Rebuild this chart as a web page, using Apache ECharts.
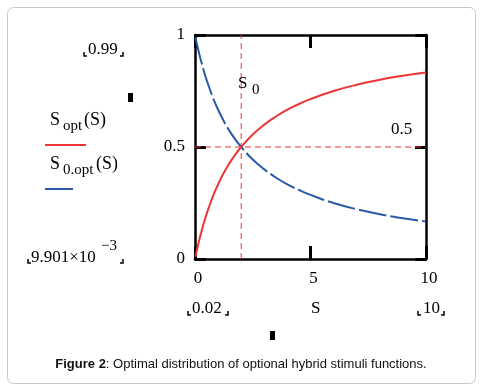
<!DOCTYPE html>
<html><head><meta charset="utf-8">
<script src="https://cdn.jsdelivr.net/npm/echarts@6/dist/echarts.min.js"></script>
<style>html,body{margin:0;padding:0;background:#fff}#c{width:494px;height:392px}</style>
</head><body><div id="c"></div>
<script>
var sValues = [0.02, 0.1, 0.2, 0.3, 0.4, 0.5, 0.6, 0.8, 1, 1.25, 1.5, 1.75, 2, 2.5, 3, 3.5, 4, 4.5, 5, 6, 7, 8, 9, 10];
var sOpt = [0.0099, 0.048, 0.091, 0.13, 0.167, 0.20, 0.23, 0.286, 0.333, 0.385, 0.429, 0.467, 0.50, 0.556, 0.60, 0.636, 0.667, 0.692, 0.714, 0.75, 0.778, 0.80, 0.818, 0.833];
var s0Opt = [0.99, 0.952, 0.909, 0.87, 0.833, 0.80, 0.77, 0.714, 0.667, 0.615, 0.571, 0.533, 0.50, 0.444, 0.40, 0.364, 0.333, 0.308, 0.286, 0.25, 0.222, 0.20, 0.182, 0.167];
var xTicks = [0, 5, 10];
var yTicks = [0, 0.5, 1];
var s0 = 2, half = 0.5;
var xRange = [0, 10], yRange = [0, 1];

var serif = '"Liberation Serif", "Times New Roman", serif';
var sans = '"Liberation Sans", Arial, sans-serif';
var chart = echarts.init(document.getElementById('c'), null, {renderer: 'canvas'});

function pair(a, b) { return a.map(function (v, i) { return [v, b[i]]; }); }
function txt(x, y, t, size, extra) {
  var st = {x: x, y: y, text: t, fill: '#000', font: size + 'px ' + serif, textVerticalAlign: 'middle'};
  if (extra) for (var k in extra) st[k] = extra[k];
  return {type: 'text', style: st, z: 10};
}
function brackets(x1, x2, y) {
  var s = {stroke: '#000', lineWidth: 1.5, fill: null};
  return [
    {type: 'polyline', shape: {points: [[x1, y - 4], [x1, y], [x1 + 3, y]]}, style: s},
    {type: 'polyline', shape: {points: [[x2, y - 4], [x2, y], [x2 - 3, y]]}, style: s}
  ];
}

var axisCommon = {
  type: 'value', splitLine: {show: false},
  axisLine: {show: true, onZero: false, lineStyle: {color: '#000', width: 2.5}},
  axisTick: {show: true, inside: true, length: 13, lineStyle: {color: '#000', width: 3}}
};

var redDash = {color: '#ee3535', width: 1, type: [6, 4]};

var graphics = [
  {type: 'rect', shape: {x: 7.5, y: 7.5, width: 468, height: 376, r: 6}, style: {fill: null, stroke: '#c8c8c8', lineWidth: 1}},
  txt(88, 50, '0.99', 17),
  txt(31, 258, '9.901\u00d710', 17),
  txt(101, 246, '\u22123', 15),
  txt(192, 309, '0.02', 17),
  txt(311, 309, 'S', 17),
  txt(423, 309, '10', 17),
  {type: 'rect', shape: {x: 128, y: 93, width: 5, height: 9}, style: {fill: '#000'}},
  {type: 'rect', shape: {x: 270, y: 331, width: 5, height: 9}, style: {fill: '#000'}},
  // legend
  txt(50, 120, 'S', 18),
  txt(63, 126, 'opt', 15),
  txt(84, 120, '(S)', 18),
  {type: 'line', shape: {x1: 45, y1: 145, x2: 86, y2: 145}, style: {stroke: '#ee3535', lineWidth: 2}},
  txt(50, 164, 'S', 18),
  txt(63, 170, '0.opt', 15),
  txt(96, 164, '(S)', 18),
  {type: 'line', shape: {x1: 45, y1: 189, x2: 73, y2: 189}, style: {stroke: '#2a5aa8', lineWidth: 2}},
  // in-plot labels
  txt(238, 84, 'S', 17),
  txt(252, 90, '0', 15),
  txt(391, 130, '0.5', 17),
  {type: 'text', style: {x: 241, y: 364, textAlign: 'center', textVerticalAlign: 'middle',
    rich: {b: {fontFamily: sans, fontSize: 13, fontWeight: 'bold', fill: '#111'},
           n: {fontFamily: sans, fontSize: 13, fill: '#111'}},
    text: '{b|Figure 2}{n|: Optimal distribution of optional hybrid stimuli functions.}'}}
].concat(brackets(84, 123, 56), brackets(28, 123, 263), brackets(188, 228, 315), brackets(418, 444, 315));

chart.setOption({
  animation: false,
  backgroundColor: '#fff',
  grid: {left: 195, right: 68, top: 35, bottom: 133},
  xAxis: [
    Object.assign({}, axisCommon, {position: 'bottom', min: 0, max: 10, interval: 5,
      axisLabel: {show: true, color: '#000', fontFamily: serif, fontSize: 17, margin: 11, padding: [0, 0, 0, 6],
        customValues: xTicks}}),
    Object.assign({}, axisCommon, {position: 'top', min: 0, max: 10, interval: 5, axisLabel: {show: false}})
  ],
  yAxis: [
    Object.assign({}, axisCommon, {position: 'left', min: 0, max: 1, interval: 0.5,
      axisTick: {show: true, inside: true, length: 11, lineStyle: {color: '#000', width: 3}},
      axisLabel: {show: true, color: '#000', fontFamily: serif, fontSize: 17, margin: 10, padding: [10, 0, 0, 0],
        customValues: yTicks}}),
    Object.assign({}, axisCommon, {position: 'right', min: 0, max: 1, interval: 0.5,
      axisTick: {show: true, inside: true, length: 11, lineStyle: {color: '#000', width: 3}},
      axisLabel: {show: false}})
  ],
  series: [
    {type: 'line', name: 'S0 marker', data: [[s0, yRange[0]], [s0, yRange[1]]], symbol: 'none', silent: true,
      lineStyle: redDash, z: 1},
    {type: 'line', name: 'half marker', data: [[xRange[0], half], [xRange[1], half]], symbol: 'none', silent: true,
      lineStyle: redDash, z: 1},
    {type: 'line', name: 'S_opt', data: pair(sValues, sOpt), smooth: true, symbol: 'none',
      lineStyle: {color: '#ee3535', width: 2}, z: 3},
    {type: 'line', name: 'S0_opt', data: pair(sValues, s0Opt), smooth: true, symbol: 'none',
      lineStyle: {color: '#2a5aa8', width: 2, type: [28, 4]}, z: 2}
  ],
  graphic: graphics
});
</script></body></html>
